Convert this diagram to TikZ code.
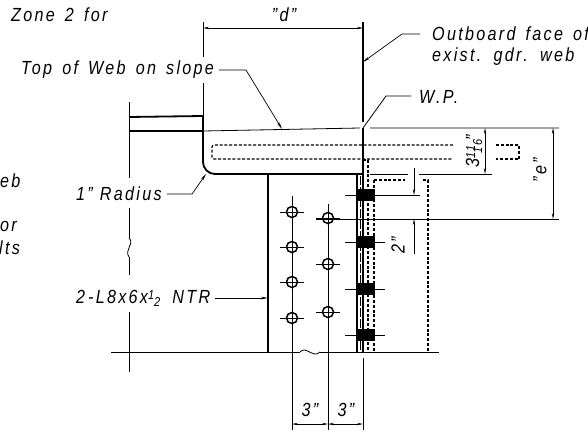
\documentclass[tikz,border=0pt]{standalone}
\usepackage{fontspec}
\setmainfont[ItalicFont={Liberation Sans Italic},LetterSpace=12,FakeStretch=0.85,WordSpace=1.5]{Liberation Sans}
\usetikzlibrary{arrows.meta}
\newcommand{\fracup}[2][12]{\raisebox{4pt}{\fontsize{#1}{#1}\selectfont #2}}
\newcommand{\fracdn}[2][12]{\raisebox{-3pt}{\fontsize{#1}{#1}\selectfont #2}}
\tikzset{
  lbl/.style={inner sep=0pt,font=\itshape\fontsize{19}{22}\selectfont},
  dimline/.style={line width=0.6pt,{Stealth[length=6pt,width=2.4pt]}-{Stealth[length=6pt,width=2.4pt]}},
  leader/.style={line width=0.7pt,-{Stealth[length=7pt,width=2.6pt]}},
  thin line/.style={line width=0.8pt},
  heavy/.style={line width=1.8pt},
  hidden/.style={line width=1.2pt,dash pattern=on 3pt off 1.8pt},
}
\begin{document}
\begin{tikzpicture}[x=1pt,y=-1pt]
  \useasboundingbox (0,0) rectangle (588,444);
  % texts
  \node[lbl,anchor=west] (zone) at (11,15) {Zone 2 for};
  \node[lbl,anchor=west] (web) at (0,181) {eb};
  \node[lbl,anchor=west] (por) at (0,226) {or};
  \node[lbl,anchor=west] (lts) at (-1,248) {lts};
  \node[lbl] (dim-d) at (284,15) {"d"};
  \node[lbl,anchor=west] (top) at (21,70) {Top of Web on slope};
  \node[lbl,anchor=west] (outboard) at (432,34) {Outboard face of};
  \node[lbl,anchor=west] (exist) at (432,57) {exist. gdr. web};
  \node[lbl,anchor=west] (wp) at (419,97) {W.P.};
  \node[lbl,anchor=west] (radius) at (76,194) {1"\hspace{-3pt} Radius};
  \node[lbl,anchor=west] (angle) at (76,298) {2\hspace{3pt}-L8x6x\fracup[13]{1}\fracdn[13]{2}\hspace{2pt} NTR};
  \node[lbl,rotate=90] (dim-f) at (474,151) {3\fracup[13]{11}\hspace{-8pt}\fracdn[13]{16}\hspace{-1pt}"};
  \node[lbl,rotate=90] (dim-e) at (540,170) {"e"};
  \node[lbl,rotate=90] (dim-2) at (398,245) {2"};
  \node[lbl] (dim-3a) at (310,410) {3"};
  \node[lbl] (dim-3b) at (346,410) {3"};
  % outline of web and girder
  \draw[thin line] (129,102) -- (129,178) (129,208) -- (129,238);
  \draw[thin line] (129,238) .. controls (135,243) and (124,250) .. (129,257);
  \draw[thin line] (129,257) -- (129,275) (129,312) -- (129,372);
  \draw[thin line] (111,352) -- (300,352) (320,352) -- (439,352);
  \draw[thin line] (300,352) .. controls (306,345) and (313,359) .. (320,352);
  \draw[heavy] (129,117) -- (203,116);
  \draw[line width=1.2pt] (129,131) -- (203,131);
  \draw[thin line] (203,131) -- (360,128) (370,128) -- (559,128);
  \draw[heavy] (203,116) -- (203,162) arc[start angle=180,end angle=90,radius=12] -- (363,174);
  \draw[heavy] (268,174) -- (268,352);
  \draw[heavy] (357,174) -- (357,352);
  \draw[heavy] (363,174) -- (363,352);
  \draw[thin line,dash pattern=on 9pt off 2pt] (360,176) -- (360,352);
  \draw[line width=1.2pt] (363,22) -- (363,122) (363,128) -- (363,174);
  \draw[thin line] (363,358) -- (363,430);
  \draw[thin line] (203,22) -- (203,57) (203,83) -- (203,116);
  % hidden lines
  \draw[hidden,rounded corners=2pt] (453,145) -- (212,145) -- (212,159) -- (453,159);
  \draw[hidden] (496,145) -- (519,145) -- (519,159) -- (496,159);
  \draw[hidden] (368,160) -- (368,352);
  \draw[hidden] (374,180) -- (374,352);
  \draw[hidden] (374,180) -- (405,180) (423,180) -- (428,180) -- (428,352);
  \draw[hidden] (363,160) -- (368,160);
  % horizontal edges to the right
  \draw[thin line] (370,174) -- (408,174) (419,174) -- (492,174);
  \draw[thin line] (316,219) -- (559,219);
  % bolts
  \foreach \y [count=\i from 1] in {195,242,289,335}{%
    \node[fill=black,minimum width=19pt,minimum height=12pt,inner sep=0pt] (B-\i) at (365.5,\y) {};
    \draw[line width=0.5pt] (345,\y) -- (385,\y);
  }
  \draw[line width=0.5pt] (385,195) -- (420,195);
  % holes
  \foreach \y [count=\i from 1] in {212,247,282,318}{%
    \node[draw,circle,line width=1.5pt,minimum size=11pt,inner sep=0pt] (H-\i) at (292,\y) {};
    \draw[line width=0.5pt] (280,\y) -- (304,\y);
  }
  \foreach \y [count=\i from 1] in {218,264,312}{%
    \node[draw,circle,line width=1.5pt,minimum size=11pt,inner sep=0pt] (K-\i) at (328,\y) {};
    \draw[line width=0.5pt] (316,\y) -- (340,\y);
  }
  \draw[thin line] (292,196) -- (292,430);
  \draw[thin line] (328,204) -- (328,430);
  % dimensions
  \draw[dimline] (203,28) -- (363,28);
  \draw[dimline] (553,128) -- (553,219);
  \draw[dimline] (485,128) -- (485,174);
  \draw[dimline] (292,424) -- (328,424);
  \draw[dimline] (328,424) -- (363,424);
  \draw[line width=0.6pt,-{Stealth[length=6pt,width=2.4pt]}] (414,168) -- (414,195);
  \draw[line width=0.6pt,-{Stealth[length=6pt,width=2.4pt]}] (414,254) -- (414,219);
  % leaders
  \draw[leader] (outboard.west) ++(-12,0) -- ++(-18,0) -- (363,62);
  \draw[leader] (top.east) ++(5,0) -- (246,70) -- (282,129);
  \draw[thin line] (wp.west) ++(-8,-1) -- (386,96) -- (363,128);
  \draw[leader] (radius.east) ++(5,0) -- (192,194) -- (206,174);
  \draw[leader] (angle.east) ++(5,0) -- (268,298);
\end{tikzpicture}
\end{document}
